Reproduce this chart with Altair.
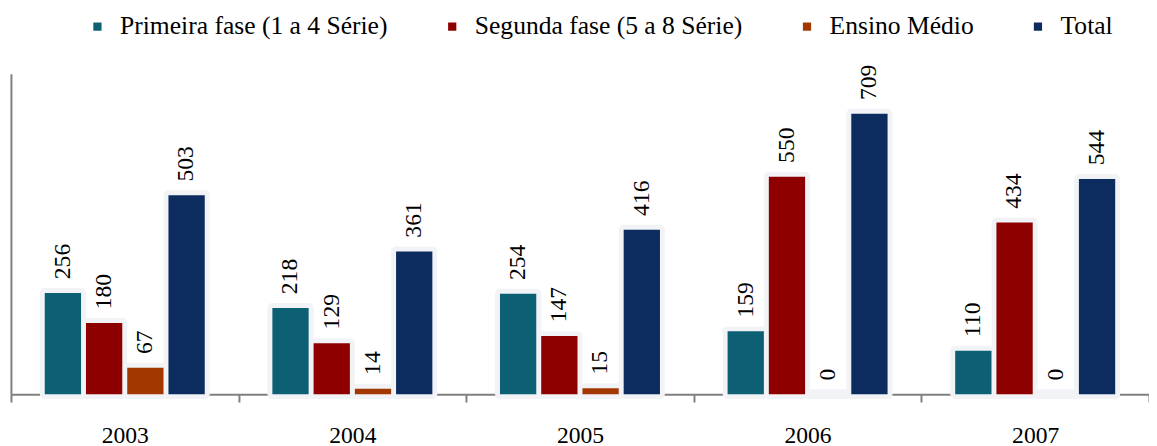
import altair as alt
import pandas as pd

years = ["2003", "2004", "2005", "2006", "2007"]
series = ["Primeira fase (1 a 4 Série)", "Segunda fase (5 a 8 Série)", "Ensino Médio", "Total"]
primeira = [256, 218, 254, 159, 110]
segunda = [180, 129, 147, 550, 434]
medio = [67, 14, 15, 0, 0]
total = [503, 361, 416, 709, 544]

colors = ["#0d5f74", "#8e0000", "#a23800", "#0c2b5f"]

rows = []
for s, vals in zip(series, [primeira, segunda, medio, total]):
    for y, v in zip(years, vals):
        rows.append({"ano": y, "serie": s, "valor": v})
df = pd.DataFrame(rows)

FONT = "Liberation Serif, Times New Roman, serif"

x = alt.X("ano:N", sort=years, title=None,
          scale=alt.Scale(paddingInner=0, paddingOuter=0),
          axis=alt.Axis(tickBand="extent", tickSize=8, tickWidth=2, tickColor="#7f7f7f",
                        domainColor="#7f7f7f", domainWidth=2, labelAngle=0,
                        labelFont=FONT, labelFontSize=24, labelColor="#000000",
                        labelPadding=22, grid=False))
xo = alt.XOffset("serie:N", sort=series,
                 scale=alt.Scale(paddingInner=0.12, paddingOuter=0.82))
y = alt.Y("valor:Q", title=None,
          scale=alt.Scale(domain=[0, 810], nice=False),
          axis=alt.Axis(labels=False, ticks=False, grid=False, domainColor="#7f7f7f",
                        domainWidth=2))

base = alt.Chart(df)

halo_layer = base.mark_bar(strokeWidth=10, strokeJoin="round",
                           fill="#f1f3f7", stroke="#f1f3f7").encode(
    x=x, xOffset=xo, y=y,
)

bars = base.mark_bar().encode(
    x=x, xOffset=xo, y=y,
    color=alt.Color("serie:N", sort=series, scale=alt.Scale(domain=series, range=colors),
                    legend=alt.Legend(title=None, orient="none", direction="horizontal",
                                      legendX=75, legendY=-61,
                                      symbolType="square", symbolSize=70, symbolStrokeWidth=0,
                                      labelFont=FONT, labelFontSize=26, labelColor="#000000",
                                      columnPadding=52, labelOffset=10, labelLimit=400)),
)

labels = base.mark_text(angle=270, align="left", baseline="middle", dx=14, dy=0,
                        font=FONT, fontSize=24, color="#000000").encode(
    x=x, xOffset=xo, y=y, text=alt.Text("valor:Q"),
)

chart = alt.layer(halo_layer, bars, labels).properties(
    width=1158, height=326,
    padding={"left": 3, "top": 63, "right": 0, "bottom": 62},
    autosize=alt.AutoSizeParams(type="none"),
    background="#ffffff",
).configure_view(strokeWidth=0, stroke="transparent")

chart.save("out.html", embed_options={"renderer": "svg", "actions": False})
